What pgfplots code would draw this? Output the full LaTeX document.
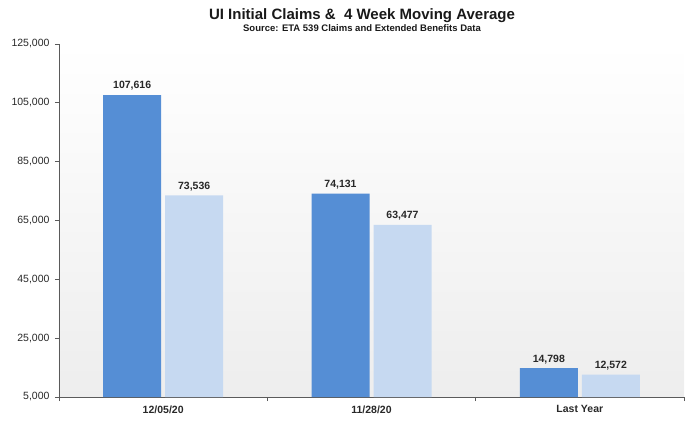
\documentclass[border=0pt]{standalone}
\usepackage{pgfplots}
\pgfplotsset{compat=1.18}
\usetikzlibrary{calc}
\usepackage{fontspec}
\setmainfont{Liberation Sans}
\definecolor{darkbar}{RGB}{85,142,213}
\definecolor{lightbar}{RGB}{198,217,241}
\definecolor{axgray}{RGB}{90,90,90}
\definecolor{txt}{RGB}{40,40,40}
\begin{document}
\begin{tikzpicture}
\begin{axis}[
  name=ax,
  scale only axis,
  width=625pt, height=353pt,
  xmin=-0.5, xmax=2.5,
  ymin=5000, ymax=125000,
  axis x line=bottom, axis y line=left,
  axis line style={-, draw=axgray, line width=0.8pt},
  ytick={5000,25000,45000,65000,85000,105000,125000},
  scaled y ticks=false,
  /pgf/number format/.cd, fixed, precision=0, 1000 sep={,}, assume math mode=true,
  /pgfplots/.cd,
  yticklabel style={font=\fontsize{10.5}{12}\selectfont, text=txt, xshift=-2pt},
  xtick={-0.5,0.5,1.5,2.5},
  x tick label as interval,
  xticklabels={12/05/20,11/28/20,Last Year},
  xticklabel style={font=\bfseries\fontsize{10.5}{12}\selectfont, text=txt, yshift=-1pt},
  tick style={draw=axgray, line width=0.8pt},
  major tick length=4pt,
  tick align=outside,
  ybar,
  bar width=58pt,
  axis background/.style={shade, top color=white, bottom color=black!7},
  nodes near coords={\pgfmathprintnumber{\pgfplotspointmeta}},
  nodes near coords style={font=\bfseries\fontsize{10.5}{12}\selectfont, text=txt, yshift=1pt},
  clip=false,
]
\addplot[fill=darkbar, draw=none, bar shift=-31pt] coordinates {(0,107616) (1,74131) (2,14798)};
\addplot[fill=lightbar, draw=none, bar shift=31pt] coordinates {(0,73536) (1,63477) (2,12572)};
\end{axis}
\node[anchor=base, font=\bfseries\fontsize{15}{17}\selectfont, text=black!90] at ($(ax.north west)+(303pt,24pt)$) {UI Initial Claims \&\ \ 4 Week Moving Average};
\node[anchor=base, font=\bfseries\fontsize{9.5}{11}\selectfont, text=black!90] at ($(ax.north west)+(303pt,12pt)$) {Source: ETA 539 Claims and Extended Benefits Data};
\pgfresetboundingbox
\path ($(ax.south west)+(-59pt,-24pt)$) rectangle ($(ax.north east)+(12pt,44pt)$);
\end{tikzpicture}
\end{document}
